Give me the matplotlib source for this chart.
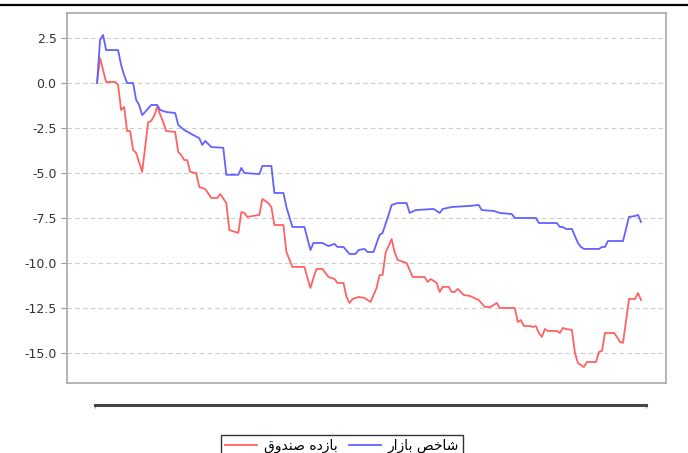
import numpy as np
import matplotlib
matplotlib.use('Agg')
import matplotlib.pyplot as plt
from matplotlib.lines import Line2D
from matplotlib.ticker import FormatStrFormatter

# day index / value pairs
blue_t = [0, 1, 2, 3, 7, 8, 9, 10, 12, 13, 14, 15, 16, 18, 20, 21, 23, 26, 27, 29,
          32, 34, 35, 36, 38, 42, 43, 47, 48, 49, 54, 55, 58, 59, 62, 63, 65, 69, 71,
          72, 75, 77, 79, 80, 82, 84, 86, 87, 89, 90, 92, 94, 95, 97, 98, 100, 103,
          104, 106, 112, 114, 115, 118, 124, 127, 128, 132, 134, 138, 139, 146, 147,
          153, 154, 155, 156, 158, 160, 161, 162, 167, 168, 169, 170, 175, 177, 179,
          180, 181]
blue = [0.0, 2.39, 2.67, 1.83, 1.83, 1.0, 0.44, 0.0, 0.0, -0.94, -1.22, -1.78, -1.61,
        -1.22, -1.22, -1.5, -1.61, -1.67, -2.33, -2.61, -2.89, -3.06, -3.44, -3.22,
        -3.56, -3.6, -5.1, -5.1, -4.72, -5.0, -5.06, -4.61, -4.61, -6.11, -6.11, -6.89,
        -8.0, -8.0, -9.28, -8.89, -8.89, -9.06, -8.94, -9.11, -9.11, -9.5, -9.5, -9.28,
        -9.22, -9.39, -9.39, -8.44, -8.33, -7.33, -6.78, -6.67, -6.67, -7.22, -7.06,
        -7.0, -7.22, -7.0, -6.89, -6.83, -6.78, -7.06, -7.11, -7.22, -7.28, -7.5, -7.5,
        -7.78, -7.78, -8.0, -8.0, -8.11, -8.11, -8.89, -9.11, -9.22, -9.22, -9.11,
        -9.11, -8.78, -8.78, -7.44, -7.39, -7.33, -7.72]

red_t = [0, 1, 3, 6, 7, 8, 9, 10, 11, 12, 13, 15, 17, 18, 19, 20, 22, 23, 26, 27, 28,
         29, 30, 31, 33, 34, 36, 38, 40, 41, 43, 44, 47, 48, 49, 50, 54, 55, 57, 58, 59,
         62, 63, 65, 69, 70, 71, 72, 73, 75, 77, 79, 80, 82, 83, 84, 85, 87, 89, 91, 93,
         94, 95, 96, 98, 99, 100, 103, 104, 105, 109, 110, 111, 113, 114, 115, 117, 118,
         119, 120, 122, 124, 127, 129, 131, 133, 134, 139, 140, 141, 142, 144, 145, 146,
         147, 148, 149, 150, 153, 154, 155, 156, 158, 159, 160, 162, 163, 166, 167, 168,
         169, 172, 173, 174, 175, 177, 179, 180, 181]
red = [0.0, 1.39, 0.06, 0.06, -0.11, -1.5, -1.33, -2.67, -2.67, -3.72, -3.89, -4.94,
       -2.17, -2.11, -1.83, -1.33, -2.17, -2.67, -2.72, -3.83, -4.0, -4.28, -4.28, -4.94,
       -5.0, -5.78, -5.89, -6.39, -6.39, -6.17, -6.67, -8.17, -8.33, -7.17, -7.22,
       -7.44, -7.33, -6.44, -6.67, -6.89, -7.89, -7.89, -9.39, -10.22, -10.22, -10.83,
       -11.39, -10.83, -10.33, -10.33, -10.78, -10.89, -11.11, -11.11, -11.89, -12.22,
       -12.0, -11.89, -11.94, -12.17, -11.39, -10.67, -10.67, -9.44, -8.67, -9.39,
       -9.83, -10.0, -10.39, -10.78, -10.78, -11.06, -10.89, -11.11, -11.61, -11.33,
       -11.33, -11.61, -11.61, -11.44, -11.78, -11.83, -12.06, -12.44, -12.44, -12.22,
       -12.5, -12.5, -13.28, -13.17, -13.5, -13.5, -13.56, -13.5, -13.89, -14.11,
       -13.67, -13.78, -13.78, -13.89, -13.61, -13.67, -13.72, -15.0, -15.56, -15.78,
       -15.5, -15.5, -14.94, -14.89, -13.89, -13.89, -14.11, -14.39, -14.44, -12.0,
       -12.0, -11.67, -12.06]

yticks = [2.5, 0.0, -2.5, -5.0, -7.5, -10.0, -12.5, -15.0]

# Persian labels, written in shaped visual order
# "بازده صندوق" and "شاخص بازار"
lbl_fund = '\ufed5\ufeed\ufeaa\ufee8\ufebb \ufee9\ufea9\ufeaf\ufe8e\ufe91'
lbl_market = '\ufead\ufe8d\ufeaf\ufe8e\ufe91 \ufeba\ufea7\ufe8e\ufeb7'

fig = plt.figure(figsize=(6.88, 4.53), dpi=100)
ax = fig.add_axes([0.0974, 0.1545, 0.8706, 0.8168])

ax.plot(red_t, red, color='#ff6262', lw=1.3, label=lbl_fund)
ax.plot(blue_t, blue, color='#6262ff', lw=1.3, label=lbl_market)

ax.set_xlim(-10, 189.3)
ax.set_ylim(-16.67, 3.89)
ax.set_yticks(yticks)
ax.yaxis.set_major_formatter(FormatStrFormatter('%.1f'))
ax.tick_params(axis='y', labelsize=9, length=4, color='#999999', labelcolor='#333333')
ax.set_xticks([])
ax.grid(axis='y', color='#cccccc', ls=(0, (4, 3)), lw=0.8)
for s in ax.spines.values():
    s.set_color('#a8a8a8')
    s.set_linewidth(1.2)

# separate x axis line below the plot
ax2 = fig.add_axes([0.0974, 0.106, 0.8706, 0.0001])
ax2.set_xlim(-10, 189.3)
for k in ['top', 'left', 'right']:
    ax2.spines[k].set_visible(False)
ax2.spines['bottom'].set_color('#444444')
ax2.spines['bottom'].set_linewidth(2.2)
ax2.spines['bottom'].set_bounds(-0.6, 182.6)
ax2.set_yticks([])
ax2.set_xticks([-0.6, 182.6])
ax2.tick_params(axis='x', labelbottom=False, length=2, color='#999999')
ax2.patch.set_visible(False)

# top frame line
fig.add_artist(Line2D([0, 1], [0.989, 0.989], color='black', lw=1.6))

leg = fig.legend(loc='upper center', bbox_to_anchor=(0.497, 0.056), ncol=2,
                 frameon=True, fancybox=False, borderpad=0.3,
                 handlelength=2.3, columnspacing=0.8, handletextpad=0.5,
                 prop={'family': 'DejaVu Sans', 'size': 10})
leg.get_frame().set_edgecolor('black')
leg.get_frame().set_linewidth(1.0)

fig.savefig('out.png', dpi=100)
